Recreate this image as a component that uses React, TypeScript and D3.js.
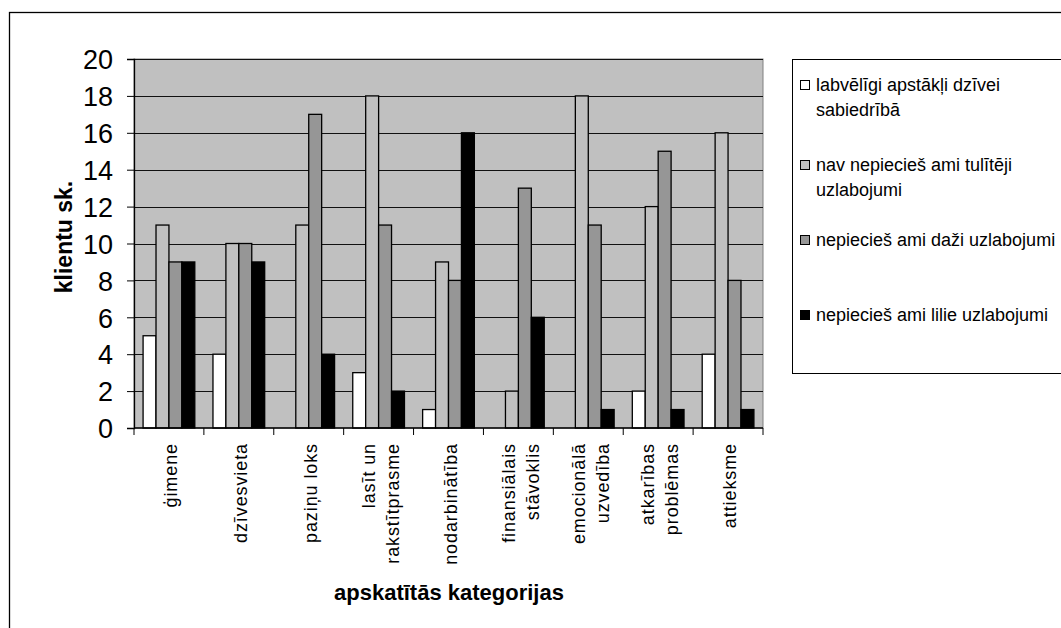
import React, { useEffect, useRef } from 'react';
import * as d3 from 'd3';

// categories (x labels can hold two lines)
const categories: string[][] = [
  ['ģimene'],
  ['dzīvesvieta'],
  ['paziņu loks'],
  ['lasīt un', 'rakstītprasme'],
  ['nodarbinātība'],
  ['finansiālais', 'stāvoklis'],
  ['emocionālā', 'uzvedība'],
  ['atkarības', 'problēmas'],
  ['attieksme'],
];

const seriesNames: string[][] = [
  ['labvēlīgi apstākļi dzīvei', 'sabiedrībā'],
  ['nav nepiecieš ami tulītēji', 'uzlabojumi'],
  ['nepiecieš ami daži uzlabojumi'],
  ['nepiecieš ami lilie uzlabojumi'],
];
const seriesColors = ['#ffffff', '#c0c0c0', '#969696', '#000000'];

const labvelígi = [5, 4, 0, 3, 1, 0, 0, 2, 4];
const navNepieciesami = [11, 10, 11, 18, 9, 2, 18, 12, 16];
const dazi = [9, 10, 17, 11, 8, 13, 11, 15, 8];
const lielie = [9, 9, 4, 2, 16, 6, 1, 1, 1];
const seriesValues = [labvelígi, navNepieciesami, dazi, lielie];

const yTicks = [0, 2, 4, 6, 8, 10, 12, 14, 16, 18, 20];

const FONT = "Arial, 'Liberation Sans', sans-serif";

export default function App() {
  const ref = useRef<SVGSVGElement>(null);

  useEffect(() => {
    if (!ref.current) return;
    const svg = d3.select(ref.current);
    svg.selectAll('*').remove();

    const W = 1061, H = 628;
    const plot = { left: 134, right: 763, top: 59, bottom: 428 };

    svg.append('rect').attr('width', W).attr('height', H).attr('fill', '#fff');
    // outer chart border
    svg.append('rect')
      .attr('x', 9.5).attr('y', 12.5)
      .attr('width', 1100).attr('height', 700)
      .attr('fill', 'none').attr('stroke', '#000').attr('stroke-width', 1.3);

    const keys = categories.map((_, i) => String(i));
    const x0 = d3.scaleBand<string>().domain(keys).range([plot.left, plot.right]).padding(0);
    const bw = x0.bandwidth();
    const x1 = d3.scaleBand<number>().domain([0, 1, 2, 3]).range([bw * 0.13, bw * 0.87]).padding(0);
    const y = d3.scaleLinear().domain([0, 20]).range([plot.bottom, plot.top]);

    // plot background
    svg.append('rect')
      .attr('x', plot.left).attr('y', plot.top)
      .attr('width', plot.right - plot.left).attr('height', plot.bottom - plot.top)
      .attr('fill', '#c0c0c0').attr('stroke', '#808080').attr('stroke-width', 1);

    // gridlines
    svg.append('g').selectAll('line').data(yTicks.slice(1)).enter().append('line')
      .attr('x1', plot.left).attr('x2', plot.right)
      .attr('y1', d => Math.round(y(d)) + 0.5).attr('y2', d => Math.round(y(d)) + 0.5)
      .attr('stroke', '#111').attr('stroke-width', 1);

    // bars (zero values are not drawn)
    seriesValues.forEach((vals, s) => {
      const pts = vals.map((v, i) => ({ v, i })).filter(d => d.v > 0);
      svg.append('g').selectAll('rect').data(pts).enter().append('rect')
        .attr('x', d => (x0(String(d.i)) as number) + (x1(s) as number))
        .attr('y', d => y(d.v))
        .attr('width', x1.bandwidth())
        .attr('height', d => plot.bottom - y(d.v))
        .attr('fill', seriesColors[s])
        .attr('stroke', '#000').attr('stroke-width', 1.3);
    });

    // axes
    const yAxis = svg.append('g').attr('transform', `translate(${plot.left},0)`)
      .call(d3.axisLeft(y).tickValues(yTicks).tickSize(7).tickPadding(14).tickFormat(d3.format('d')));
    yAxis.select('.domain').attr('stroke', '#000').attr('stroke-width', 1.3);
    yAxis.selectAll('.tick line').attr('stroke', '#000');
    yAxis.selectAll('.tick text')
      .attr('font-family', FONT).attr('font-size', 27).attr('fill', '#000')
      .attr('dy', '0.36em');

    const xAxis = svg.append('g').attr('transform', `translate(0,${plot.bottom})`);
    xAxis.append('line').attr('x1', plot.left).attr('x2', plot.right)
      .attr('stroke', '#000').attr('stroke-width', 1.3);
    const bounds = keys.map(k => x0(k) as number).concat([plot.right]);
    xAxis.selectAll('line.tk').data(bounds).enter().append('line').attr('class', 'tk')
      .attr('x1', d => d).attr('x2', d => d).attr('y1', 0).attr('y2', 7)
      .attr('stroke', '#000');

    // x category labels, rotated
    categories.forEach((lines, i) => {
      const cx = (x0(String(i)) as number) + bw / 2 + 2;
      lines.forEach((ln, j) => {
        const off = (j - (lines.length - 1) / 2) * 24;
        svg.append('text')
          .attr('transform', `translate(${cx + off},443) rotate(-90)`)
          .attr('text-anchor', 'end')
          .attr('dy', '0.35em')
          .attr('font-family', FONT).attr('font-size', 18)
          .attr('letter-spacing', 0.9)
          .attr('fill', '#000')
          .text(ln);
      });
    });

    // axis titles
    svg.append('text')
      .attr('x', 449).attr('y', 600)
      .attr('text-anchor', 'middle')
      .attr('font-family', FONT).attr('font-size', 22).attr('font-weight', 'bold')
      .text('apskatītās kategorijas');
    svg.append('text')
      .attr('transform', `translate(72,237) rotate(-90)`)
      .attr('text-anchor', 'middle')
      .attr('font-family', FONT).attr('font-size', 23).attr('font-weight', 'bold')
      .text('klientu sk.');

    // legend
    const legend = svg.append('g');
    legend.append('rect')
      .attr('x', 792.5).attr('y', 59.5).attr('width', 400).attr('height', 314)
      .attr('fill', '#fff').attr('stroke', '#000').attr('stroke-width', 1);
    const itemY = [85, 165, 240, 315];
    seriesNames.forEach((lines, s) => {
      legend.append('rect')
        .attr('x', 800.5).attr('y', itemY[s] - 4.5).attr('width', 9).attr('height', 9)
        .attr('fill', seriesColors[s]).attr('stroke', '#000').attr('stroke-width', 1);
      lines.forEach((ln, j) => {
        legend.append('text')
          .attr('x', 816).attr('y', itemY[s] + j * 25)
          .attr('dy', '0.35em')
          .attr('font-family', FONT).attr('font-size', 18)
          .attr('fill', '#000')
          .text(ln);
      });
    });
  }, []);

  return (
    <svg ref={ref} width={1061} height={628}
      style={{ position: 'absolute', left: 0, top: 0, display: 'block' }} />
  );
}
